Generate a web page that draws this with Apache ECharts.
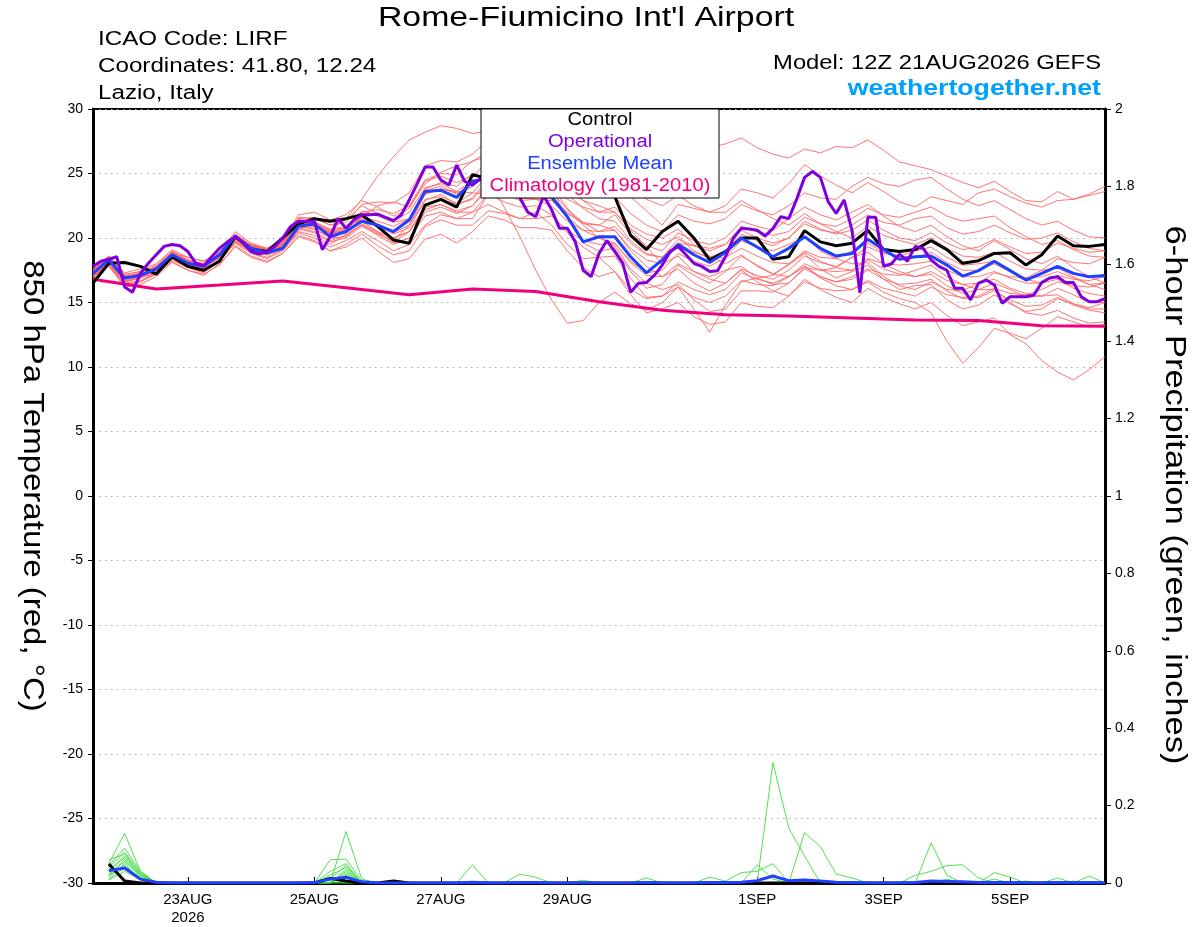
<!DOCTYPE html>
<html><head><meta charset="utf-8">
<script src="https://cdn.jsdelivr.net/npm/echarts@6/dist/echarts.min.js"></script>
<style>html,body{margin:0;padding:0;background:#fff}#c{width:1200px;height:927px}</style>
</head><body><div id="c"></div>
<script>
const stepHours = 6, opStepHours = 3, climStepHours = 24;
const tickHours = [36, 84, 132, 180, 252, 300, 348];
const tickLabels = ['23AUG\n2026', '25AUG', '27AUG', '29AUG', '1SEP', '3SEP', '5SEP'];

const control = [16.5,18.04,18.1,17.8,17.2,18.55,17.8,17.5,18.2,20.1,19.15,18.95,20.0,21.1,21.5,21.3,21.5,21.8,20.9,19.85,19.6,22.55,23.0,22.4,24.9,24.6,24.8,25.0,24.5,24.8,24.3,24.0,23.8,23.2,20.2,19.1,20.5,21.3,20.0,18.3,18.95,20.0,20.0,18.35,18.55,20.57,19.7,19.4,19.6,20.6,19.1,18.95,19.1,19.8,19.1,18.04,18.24,18.8,18.86,17.9,18.7,20.15,19.4,19.35,19.5];
const ensMean = [17.26,18.3,16.9,17.1,17.6,18.7,18.04,17.8,18.7,20.15,19.2,18.86,19.2,20.9,21.1,20.1,20.5,21.3,21.0,20.5,21.4,23.6,23.7,23.15,24.4,24.6,24.8,24.3,23.8,23.2,21.65,19.7,20.1,20.1,18.55,17.3,18.3,19.5,18.7,18.1,18.9,20.0,19.3,18.55,19.2,20.1,19.2,18.6,18.8,19.9,19.1,18.35,18.55,18.6,17.9,17.05,17.47,18.2,17.47,16.74,17.26,17.8,17.26,17.0,17.1];
const operational = [17.8,18.2,18.35,18.55,16.2,15.8,17.26,18.04,18.7,19.35,19.5,19.4,18.95,18.04,17.85,18.55,19.2,19.7,20.1,19.6,18.95,18.75,18.95,19.35,20.0,20.9,21.3,21.3,21.3,19.1,20.1,21.5,20.75,21.4,21.8,21.8,21.85,21.6,21.35,21.8,22.95,24.2,25.5,25.5,24.5,24.1,25.65,24.4,24.1,
 24.6,25.0,24.7,24.2,23.7,23.1,
 22.0,21.65,23.3,22.2,20.75,20.75,19.7,17.5,17.0,18.8,19.8,18.95,18.04,15.8,16.5,16.55,17.1,17.9,18.95,19.35,18.7,18.04,17.8,17.4,17.47,18.55,20.0,20.75,20.7,20.6,20.15,20.75,21.65,21.5,
 23.0,24.7,25.15,24.7,22.8,21.9,22.95,20.6,15.76,21.6,21.6,17.8,18.0,18.75,18.2,19.35,19.2,18.3,17.8,17.5,16.1,16.1,15.2,16.5,16.74,16.36,14.94,15.45,15.45,15.45,15.58,16.55,16.9,17.0,16.55,16.55,15.45,15.06,15.06,15.3];
const climatology = [16.8,16.05,16.35,16.67,16.15,15.6,16.05,15.85,15.05,14.4,14.05,13.95,13.8,13.65,13.6,13.2,13.15];

const member01 = [17.2,18.3,16.8,17.2, 17.7,18.9,18.5,18.2, 18.7,19.9,19.5,19.2, 19.8,21.2,21.0,20.6, 21.5,23.0,24.8,26.3, 27.6,28.2,28.7,28.5, 28.1,28.3,27.9,27.3, 27.2,27.9,27.3,26.6, 26.5,27.2,26.8,26.5, 26.9,27.6,27.4,27.0, 27.3,27.75,27.0,26.5, 26.2,26.9,26.6,27.1, 27.0,27.6,26.8,25.9, 25.6,25.3,24.8,24.3, 23.9,24.4,23.6,22.9, 22.8,23.6,23.0,23.4, 24.0];
const member02 = [17.0,18.1,16.6,16.9, 17.4,18.6,18.0,17.6, 18.2,19.7,19.0,18.7, 19.1,20.6,21.3,20.4, 20.4,21.6,22.5,22.8, 22.4,24.2,25.1,25.6, 25.9,26.8,26.6,26.1, 26.2,26.9,25.8,24.6, 23.5,24.3,23.2,22.1, 21.0,22.6,22.3,22.0, 22.5,23.8,23.5,23.1, 24.2,25.7,24.8,24.1, 23.5,24.3,23.6,22.8, 22.4,23.2,22.9,22.6, 23.5,23.8,23.2,22.7, 22.4,22.9,23.0,23.3, 23.6];
const member03 = [17.5,18.5,17.1,17.0, 17.2,18.4,18.1,17.8, 18.6,20.2,19.4,19.0, 19.6,21.3,21.1,20.5, 20.8,21.8,21.0,20.3, 20.8,22.9,23.4,22.6, 23.1,24.6,24.7,24.1, 24.4,23.8,21.5,19.6, 19.0,19.2,17.4,16.1, 16.4,17.9,17.1,16.5, 17.4,18.6,17.9,17.2, 17.9,18.8,17.6,16.9, 17.4,17.9,16.8,16.0, 16.3,16.4,15.2,14.5, 14.8,15.6,14.9,14.3, 14.5,15.3,14.9,14.6, 15.0];
const member04 = [17.2,18.2,16.9,17.3, 17.8,18.9,18.2,17.9, 18.4,20.0,19.2,18.9, 19.4,20.9,20.7,20.1, 20.5,21.3,20.5,19.6, 20.0,22.0,22.4,21.9, 22.5,24.1,24.0,23.3, 23.5,23.1,22.0,21.2, 21.0,21.8,20.3,19.4, 19.0,20.4,19.8,19.5, 20.0,21.3,20.9,20.6, 21.5,22.4,21.8,21.4, 22.0,22.6,21.7,20.9, 20.5,21.0,20.1,19.4, 19.0,19.8,19.1,18.4, 18.0,18.6,17.7,17.0, 16.5];
const member05 = [16.8,17.9,16.3,16.6, 17.4,18.4,17.7,17.3, 18.2,19.6,18.8,18.4, 19.0,20.4,20.0,19.3, 19.8,20.5,19.8,19.0, 19.5,21.0,21.8,21.5, 21.5,23.4,23.9,23.6, 24.0,24.5,23.7,22.9, 22.5,22.0,20.6,19.3, 18.0,18.6,17.4,16.8, 16.5,17.5,16.6,15.9, 15.5,16.8,16.0,15.4, 15.0,16.1,15.4,14.9, 14.5,15.0,14.0,13.2, 13.5,13.8,12.5,11.8, 10.5,9.6,9.0,9.8, 10.8];
const member06 = [17.4,18.4,17.0,17.3, 17.7,18.8,18.2,17.9, 18.8,20.3,19.5,19.1, 19.6,21.4,21.3,20.6, 20.8,22.0,22.2,21.9, 22.5,24.5,25.0,24.9, 26.0,26.3,25.7,25.0, 25.0,24.0,22.3,21.0, 20.0,19.4,17.6,16.5, 16.0,16.4,15.2,14.3, 14.5,15.9,15.9,15.8, 16.5,17.6,17.0,16.6, 17.0,17.6,17.2,17.1, 17.5,17.9,17.0,16.4, 16.0,16.5,16.0,15.4, 15.5,16.1,15.6,15.0, 15.0];
const member07 = [17.1,18.0,16.7,17.0, 17.6,18.7,17.9,17.6, 18.5,19.9,19.1,18.7, 19.3,20.7,20.4,19.7, 20.0,20.9,20.3,19.8, 21.0,23.0,23.2,22.7, 23.5,23.4,22.8,22.4, 22.5,21.8,20.4,19.3, 18.5,18.6,16.9,15.4, 15.5,16.2,14.5,12.7, 14.8,16.6,16.9,17.1, 18.0,19.0,18.5,18.4, 19.0,19.6,18.9,18.6, 18.5,18.9,18.1,17.5, 17.5,18.0,17.4,16.9, 17.0,17.4,16.9,16.4, 16.5];
const member08 = [17.3,18.2,16.9,17.1, 17.5,18.6,18.0,17.7, 18.7,20.1,19.4,19.1, 19.7,21.5,21.6,21.0, 21.2,22.6,22.8,22.7, 23.5,25.6,26.0,25.9, 26.5,27.6,27.3,26.9, 27.0,27.4,26.4,25.6, 25.0,25.1,23.9,23.0, 22.5,23.3,22.5,22.0, 22.0,22.9,22.2,21.5, 21.0,21.9,21.1,20.5, 20.0,20.9,20.2,19.8, 19.5,20.0,19.2,18.6, 18.5,18.9,18.2,17.6, 17.5,17.7,17.0,16.4, 16.0];
const member09 = [17.0,17.9,16.4,16.6, 17.2,18.3,17.7,17.4, 18.3,19.7,18.9,18.5, 19.1,20.5,20.2,19.5, 20.3,21.0,20.4,19.7, 20.5,22.4,22.6,22.0, 22.0,22.6,22.0,21.5, 21.5,21.7,20.6,19.8, 19.5,19.6,18.2,17.3, 17.5,18.8,18.2,17.8, 18.5,19.8,19.3,19.0, 19.5,20.1,19.0,18.4, 18.0,18.1,17.0,16.3, 16.0,16.6,16.0,15.9, 16.5,17.3,17.0,16.9, 17.5,18.4,18.1,18.0, 18.5];
const member10 = [17.6,18.6,17.2,17.4, 17.9,19.0,18.3,17.9, 18.4,20.0,19.3,18.9, 19.5,21.1,21.0,20.4, 20.6,21.7,21.1,20.4, 21.5,23.7,24.0,23.4, 24.0,25.4,25.4,25.0, 25.5,24.8,23.4,22.3, 21.5,21.3,19.8,18.8, 18.5,19.6,18.9,18.5, 19.0,20.3,19.8,19.4, 20.0,21.1,20.6,20.4, 21.0,21.8,21.2,21.0, 21.5,21.7,20.8,20.3, 20.5,21.0,20.4,19.9, 20.0,20.4,19.7,19.2, 19.0];
const member11 = [17.2,18.0,16.5,16.7, 17.2,18.2,17.5,17.1, 18.0,19.3,18.5,18.1, 18.8,20.1,19.7,19.0, 19.5,20.3,19.4,18.7, 19.0,20.9,21.4,21.0, 21.0,22.1,21.9,21.5, 22.0,21.0,19.5,18.4, 18.5,17.4,15.6,14.2, 14.5,15.0,13.9,13.3, 13.5,15.0,14.7,14.6, 15.5,16.6,16.1,15.9, 16.0,16.6,15.8,15.3, 15.0,14.2,12.0,10.3, 11.5,13.0,12.6,12.2, 13.0,13.9,13.5,13.1, 13.3];
const member12 = [17.4,18.4,17.1,17.4, 17.6,18.7,18.1,17.8, 18.6,20.1,19.4,19.1, 19.9,21.6,21.5,21.0, 21.4,22.5,21.9,21.3, 22.0,23.9,24.2,23.6, 24.5,24.6,23.8,23.1, 23.0,22.5,21.3,20.6, 20.5,20.6,19.0,17.8, 17.0,18.0,17.4,17.0, 17.5,17.8,16.9,16.4, 16.5,17.7,17.5,17.7, 18.5,19.3,18.8,18.6, 19.0,19.3,18.5,17.9, 18.0,18.2,17.4,16.8, 16.5,16.8,16.1,15.7, 15.5];
const member13 = [16.9,18.0,16.8,17.2, 17.7,18.8,18.3,18.0, 18.9,20.3,19.4,19.0, 19.5,21.0,20.7,20.0, 20.1,21.1,20.5,20.0, 20.5,22.5,23.0,22.6, 23.0,24.3,24.3,23.8, 24.0,23.8,23.0,22.4, 22.0,22.4,21.0,20.3, 20.0,20.7,19.5,18.6, 18.0,18.7,17.8,17.2, 17.0,17.8,16.9,16.3, 16.0,16.7,16.1,15.8, 15.5,16.2,15.6,15.4, 15.5,16.1,15.7,15.6, 16.0,16.6,16.3,16.2, 16.5];
const member14 = [17.3,18.2,16.7,16.9, 17.4,18.5,17.9,17.6, 18.3,19.8,19.1,18.7, 19.2,20.8,20.9,20.3, 20.4,21.6,21.3,20.9, 21.5,23.4,23.8,23.6, 23.5,24.9,25.5,25.5, 26.0,25.7,24.8,24.0, 23.5,23.2,21.9,21.0, 20.5,21.8,21.3,21.1, 21.5,22.6,22.1,21.8, 22.5,23.5,23.1,23.0, 24.0,24.7,24.2,24.0, 24.5,24.7,23.8,23.0, 22.5,22.9,22.2,21.5, 21.0,21.3,20.6,20.1, 20.0];
const member15 = [17.1,18.2,16.8,17.2, 17.8,18.9,18.3,18.0, 18.5,20.0,19.3,18.9, 19.6,21.2,20.9,20.4, 20.7,21.6,20.8,20.0, 20.5,22.2,22.6,22.1, 22.5,23.8,23.8,23.3, 23.5,23.0,21.6,20.6, 20.0,19.6,18.1,17.1, 17.0,17.6,16.5,15.9, 16.5,17.6,17.1,16.8, 17.5,18.6,18.1,17.8, 18.5,18.9,18.0,17.4, 17.0,17.2,16.3,15.7, 16.0,16.0,15.0,14.2, 14.0,14.4,13.8,13.4, 13.5];
const member16 = [17.5,18.5,17.0,17.2, 17.5,18.6,18.1,17.8, 18.7,20.2,19.3,18.8, 19.4,21.0,21.2,20.7, 20.9,22.1,21.7,21.2, 21.5,23.8,24.3,24.0, 25.0,24.5,22.4,20.1, 17.5,15.2,13.4,13.6, 15.0,15.8,14.9,14.4, 15.0,16.2,15.4,15.0, 15.5,16.7,16.4,16.3, 17.0,18.0,17.5,17.4, 17.5,18.4,18.0,17.9, 18.0,18.2,17.5,17.0, 17.0,17.4,16.9,16.5, 16.5,17.1,16.8,16.7, 17.0];
const member17 = [17.0,18.0,16.6,16.9, 17.6,18.7,17.9,17.5, 18.2,19.7,19.0,18.7, 19.3,20.8,20.5,19.8, 20.2,21.0,20.2,19.5, 20.0,21.7,22.0,21.5, 22.0,23.4,23.4,22.9, 23.0,22.9,21.9,21.1, 21.0,20.6,19.2,18.3, 18.0,19.6,19.4,19.2, 19.5,20.9,20.5,20.2, 20.5,21.6,21.1,20.9, 21.5,22.3,21.8,21.6, 22.0,22.4,21.7,21.3, 21.5,21.7,20.8,20.1, 19.5,19.8,19.1,18.6, 18.5];
const member18 = [17.3,18.3,16.9,17.2, 17.7,18.8,18.1,17.8, 18.5,20.0,19.3,19.0, 19.5,21.1,20.9,20.4, 20.5,21.5,20.9,20.4, 21.0,23.4,23.8,23.5, 24.0,25.3,25.4,25.0, 25.5,25.1,23.9,22.9, 22.0,22.0,20.7,19.9, 19.5,20.1,19.0,18.4, 18.5,19.2,18.6,18.1, 18.0,18.9,18.2,17.7, 17.5,18.3,17.6,17.2, 17.0,17.4,16.7,16.4, 16.5,16.8,16.1,15.7, 15.5,15.6,14.9,14.5, 14.5];
const member19 = [17.0,17.8,16.2,16.4, 17.0,18.1,17.5,17.2, 17.9,19.4,18.6,18.2, 18.8,20.2,19.8,19.0, 19.3,20.0,19.0,18.1, 18.4,19.9,20.3,19.6, 20.5,21.7,21.4,20.8, 20.8,20.6,19.0,17.7, 17.0,17.4,16.0,15.3, 15.5,16.6,16.0,15.6, 16.0,17.3,16.8,16.5, 17.0,17.8,17.0,16.6, 16.8,17.5,16.8,16.4, 16.5,16.8,15.9,15.3, 15.4,15.9,15.2,14.7, 14.8,15.4,14.8,14.4, 14.2];
const member20 = [17.4,18.6,17.3,17.6, 18.0,19.1,18.5,18.2, 18.9,20.5,19.6,19.2, 19.8,21.8,22.0,21.4, 21.8,22.9,22.4,21.7, 22.3,24.4,24.8,24.3, 24.8,25.9,25.5,24.8, 24.5,23.6,22.2,21.2, 20.5,20.9,19.6,18.7, 18.5,19.9,19.4,19.0, 19.5,20.6,20.0,19.6, 20.0,21.3,20.7,20.3, 20.6,21.4,20.6,20.0, 19.8,20.4,19.6,19.1, 19.3,19.9,19.3,18.8, 18.9,19.6,19.2,18.9, 19.0];

// 6-hour precipitation (inches), valid at hours 6..384
const precipControl = [.049,.005,0,0,0,0,0,0, 0,0,0,0,0,0,.012,.005, 0,0,.005,0,0,0,0,0, 0,0,0,0,0,0,0,0, 0,0,0,0,0,0,0,0, 0,0,0,0,0,0,0,0, 0,0,0,0,0,0,0,0, 0,0,0,0,0,0,0,0];
const precipMean = [.032,.039,.01,.002,0,0,0,0, 0,0,0,0,0,.001,.01,.015, .003,0,0,0,0,0,0,.002, 0,0,.001,.001,0,0,0,0, 0,0,.001,0,0,0,.001,.001, .002,.006,.018,.006,.008,.005,.002,.001, 0,0,0,.001,.005,.004,.003,.001, .001,.001,0,0,.001,0,.001,0];
const precip01 = [.05,.128,.03,0,0,0,0,0, 0,0,0,0,0,0,0,.133, .01,0,0,0,0,0,0,0, 0,0,0,0,0,0,0,0, 0,0,0,0,0,0,0,0, 0,0,.311,.142,.07,0,0,0, 0,0,0,0,0,0,0,0, 0,0,0,0,0,0,0,0];
const precip02 = [.04,.08,.025,0,0,0,0,0, 0,0,0,0,0,0,.06,.062, .005,0,0,0,0,0,0,0, 0,0,0,0,0,0,0,0, 0,0,0,0,0,0,0,0, 0,0,0,0,.13,.094,.023,.013, 0,0,0,0,0,0,0,0, 0,0,0,0,0,0,0,0];
const precip03 = [.03,.07,.02,0,0,0,0,0, 0,0,0,0,0,0,.03,.05, 0,0,0,0,0,0,0,0, 0,0,0,0,0,0,0,0, 0,0,0,0,0,0,.015,.005, .027,.03,.05,0,0,0,0,0, 0,0,0,0,0,0,0,0, 0,0,0,0,0,0,0,0];
const precip04 = [.02,.06,.015,0,0,0,0,0, 0,0,0,0,0,0,.02,.04, 0,0,0,0,0,0,0,0, 0,0,0,0,0,0,0,0, 0,0,0,0,0,0,0,0, 0,.047,.01,0,0,0,0,0, 0,0,0,0,.104,.02,0,0, 0,0,0,0,0,0,0,0];
const precip05 = [.015,.05,.01,0,0,0,0,0, 0,0,0,0,0,0,0,.03, 0,0,0,0,0,0,0,.047, 0,0,0,0,0,0,0,0, 0,0,0,0,0,0,0,0, 0,0,0,0,0,0,0,0, 0,0,0,.02,.03,.045,.047,.013, 0,0,0,0,0,0,0,0];
const precip06 = [.01,.04,.01,0,0,0,0,0, 0,0,0,0,0,0,0,.02, 0,0,0,0,0,0,0,0, 0,0,.023,.015,0,0,0,0, 0,0,0,0,0,0,0,0, 0,0,0,0,0,0,0,0, 0,0,0,0,0,0,0,0, .027,.015,0,0,0,0,0,0];
const precip07 = [.035,.065,.02,0,0,0,0,0, 0,0,0,0,0,0,0,.025, 0,0,0,0,0,0,0,0, 0,0,0,0,0,0,.007,0, 0,0,.013,0,0,0,0,0, 0,0,0,0,0,0,0,0, 0,0,0,0,0,0,0,0, 0,0,0,0,.013,0,.018,0];
const precip08 = [.045,.09,.03,0,0,0,0,0, 0,0,0,0,0,.003,.01,.045, 0,0,0,0,0,0,0,0, 0,0,0,0,0,0,0,0, 0,0,0,0,0,0,0,0, 0,0,0,0,0,0,0,0, 0,0,0,0,0,0,0,0, 0,0,0,0,0,0,0,0];
const precip09 = [.025,.055,.02,0,0,0,0,0, 0,0,0,0,0,0,0,0, 0,0,0,0,0,0,0,0, 0,0,0,0,0,0,0,0, 0,0,0,0,0,0,0,0, 0,0,0,0,0,0,0,0, 0,0,0,0,0,.01,0,0, 0,0,0,0,0,0,0,0];
const precip10 = [.06,.075,.025,0,0,0,0,0, 0,0,0,0,0,0,0,.035, 0,0,0,0,0,0,0,0, 0,0,0,0,0,0,0,0, 0,0,0,0,0,0,0,0, 0,0,0,0,0,0,0,0, 0,0,0,0,0,0,0,0, 0,0,0,0,0,0,0,0];
const precip11 = [.008,.03,.008,0,0,0,0,0, 0,0,0,0,0,0,0,0, 0,0,0,0,0,0,0,0, 0,0,0,0,0,0,0,0, 0,0,0,0,0,0,0,0, 0,0,0,0,0,0,0,0, 0,0,0,0,0,0,0,0, .01,0,.005,0,0,.005,0,0];
const precip12 = [.02,.045,.012,0,0,0,0,0, 0,0,0,0,0,0,.01,0, 0,0,0,0,0,0,0,0, 0,0,0,0,0,0,0,0, 0,0,0,0,0,0,0,0, 0,0,0,0,0,0,0,0, 0,0,0,0,0,0,0,0, 0,0,0,0,0,0,0,0];

const tempMembers = [member01,member02,member03,member04,member05,member06,member07,member08,member09,member10,member11,member12,member13,member14,member15,member16,member17,member18,member19,member20];
const precipMembers = [precip01,precip02,precip03,precip04,precip05,precip06,precip07,precip08,precip09,precip10,precip11,precip12];

const FONT = 'Liberation Sans';
const at = (arr, step, offset) => arr.map((v, i) => [(i + offset) * step, v]);
const line = (data, color, width, yAxisIndex, z) => ({
  type: 'line', data, yAxisIndex, symbol: 'none', showSymbol: false, silent: true, z,
  lineStyle: { color, width }, emphasis: { disabled: true }
});

const series = [];
precipMembers.forEach(a => series.push(line(at(a, stepHours, 1), '#3ddc3d', 0.9, 1, 1)));
tempMembers.forEach(a => series.push(line(at(a, stepHours, 0), '#ff6464', 0.9, 0, 2)));
series.push(line(at(climatology, climStepHours, 0), '#f0007f', 3, 0, 3));
series.push(line(at(precipControl, stepHours, 1), '#000000', 3, 1, 4));
series.push(line(at(precipMean, stepHours, 1), '#2040ff', 3, 1, 5));
series.push(line(at(control, stepHours, 0), '#000000', 3, 0, 6));
series.push(line(at(ensMean, stepHours, 0), '#2040ff', 3, 0, 7));
series.push(line(at(operational, opStepHours, 0), '#7f00dd', 3, 0, 8));

const txt = (text, x, y, opt) => ({
  type: 'text', x, y, z: 101, silent: true,
  scaleX: opt.sx || 1, rotation: opt.rot || 0,
  style: { text, fill: opt.color || '#000', font: (opt.weight || 'normal') + ' ' + opt.size + 'px "' + FONT + '"',
    align: opt.align || 'left', verticalAlign: 'middle' }
});

const chart = echarts.init(document.getElementById('c'), null, { renderer: 'canvas' });
chart.setOption({
  animation: false,
  backgroundColor: '#fff',
  textStyle: { fontFamily: FONT },
  grid: { left: 93, right: 95, top: 109, bottom: 44, show: true, borderColor: '#000', borderWidth: 2, outerBoundsMode: 'none' },
  xAxis: {
    type: 'value', min: 0, max: 384,
    axisLine: { onZero: false, lineStyle: { color: '#000', width: 3 } },
    axisTick: { show: true, inside: true, length: 6, customValues: tickHours, lineStyle: { color: '#000', width: 1 } },
    axisLabel: { customValues: tickHours, color: '#000', fontSize: 15, lineHeight: 18, margin: 8,
      formatter: v => { const k = tickHours.indexOf(v); return k >= 0 ? tickLabels[k] : ''; } },
    splitLine: { show: false }
  },
  yAxis: [
    { type: 'value', min: -30, max: 30, interval: 5, position: 'left',
      axisLine: { show: true, lineStyle: { color: '#000', width: 3 } },
      axisTick: { show: true, length: 5, lineStyle: { color: '#000', width: 1 } },
      axisLabel: { color: '#000', fontSize: 14, margin: 10 },
      splitLine: { show: true, lineStyle: { color: '#aaaaaa', width: 1, type: [1.5, 4.5] } } },
    { type: 'value', min: 0, max: 2, interval: 0.2, position: 'right',
      axisLine: { show: true, lineStyle: { color: '#000', width: 3 } },
      axisTick: { show: true, length: 6, lineStyle: { color: '#000', width: 1 } },
      axisLabel: { color: '#000', fontSize: 14, margin: 10, formatter: v => String(+v.toFixed(1)) },
      splitLine: { show: false } }
  ],
  graphic: [
    txt("Rome-Fiumicino Int'l Airport", 586, 18, { size: 27.5, sx: 1.23, align: 'center' }),
    txt('ICAO Code: LIRF', 98, 39.5, { size: 19.5, sx: 1.24 }),
    txt('Coordinates: 41.80, 12.24', 98, 66.5, { size: 19.5, sx: 1.24 }),
    txt('Lazio, Italy', 98, 93.5, { size: 19.5, sx: 1.24 }),
    txt('Model: 12Z 21AUG2026 GEFS', 1101, 63.5, { size: 19.5, sx: 1.22, align: 'right' }),
    txt('weathertogether.net', 1101, 89, { size: 21.5, sx: 1.24, align: 'right', weight: 'bold', color: '#00a0ff' }),
    { type: 'rect', z: 100, silent: true, shape: { x: 481, y: 109, width: 238, height: 89 },
      style: { fill: '#fff', stroke: '#000', lineWidth: 1 } },
    txt('Control', 600, 120.5, { size: 18, sx: 1.12, align: 'center' }),
    txt('Operational', 600, 142, { size: 18, sx: 1.12, align: 'center', color: '#7f00dd' }),
    txt('Ensemble Mean', 600, 164, { size: 18, sx: 1.12, align: 'center', color: '#2040ff' }),
    txt('Climatology (1981-2010)', 600, 186.5, { size: 18, sx: 1.12, align: 'center', color: '#f0007f' }),
    txt('850 hPa Temperature (red, \u00B0C)', 32, 486, { size: 30, sx: 1.1, align: 'center', rot: -Math.PI / 2 }),
    txt('6-hour Precipitation (green, inches)', 1174, 495, { size: 30, sx: 1.15, align: 'center', rot: -Math.PI / 2 })
  ],
  series
});
</script></body></html>
